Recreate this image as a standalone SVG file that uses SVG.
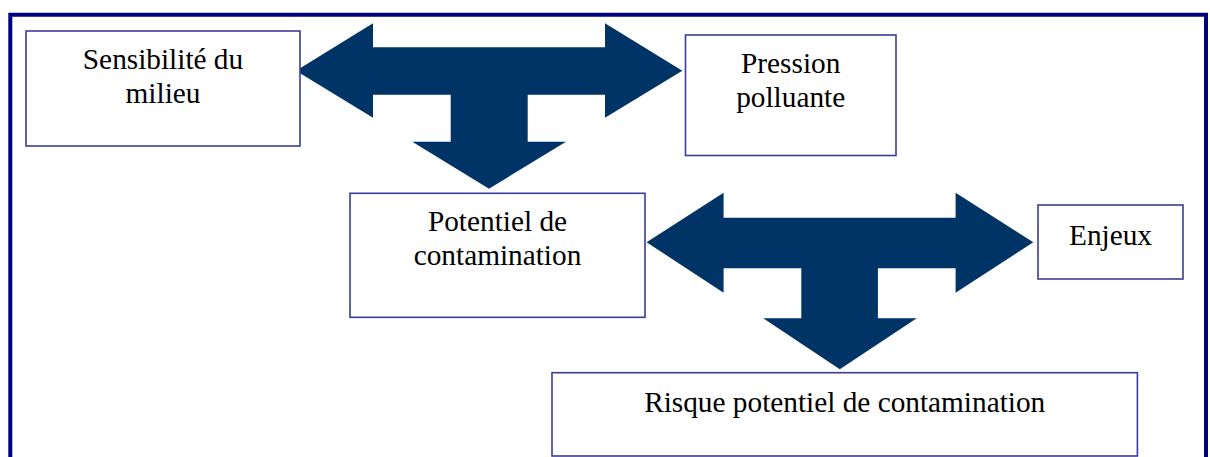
<svg xmlns="http://www.w3.org/2000/svg" width="1210" height="457" viewBox="0 0 1210 457">
<style>
.box{fill:#ffffff;stroke:#3b3b9c;stroke-width:1.6}
.lbl{font-family:"Liberation Serif","Times New Roman",serif;font-size:29.3px;fill:#000000;text-anchor:middle}
.arrow{fill:#003366;stroke:none}
</style>
<rect x="0" y="0" width="1210" height="457" fill="#ffffff"/>
<path d="M10.3,460 V14.7 H1206 V460" fill="none" stroke="#000080" stroke-width="4"/>
<g id="connectors">
<polygon class="arrow" points="296,70.7 373,23.3 373,47.3 605,47.3 605,23.3 682.3,70.7 605,117.7 605,94.7 527.7,94.7 527.7,141.7 566,141.7 489,188.7 412.3,141.7 450.7,141.7 450.7,94.7 373,94.7 373,117.7"/>
<polygon class="arrow" points="646.6,242.3 723.6,192.7 723.6,217.7 955.6,217.7 955.6,192.7 1033.3,242.3 955.6,292.7 955.6,268.3 877.9,268.3 877.9,318.3 916.7,318.3 839.8,369.3 763.2,318.3 801.3,318.3 801.3,268.3 723.6,268.3 723.6,292.7"/>
</g>
<g id="sensibilite">
<rect class="box" x="26" y="31" width="274" height="115"/>
<text class="lbl" x="163" y="69">Sensibilité du</text>
<text class="lbl" x="163" y="103">milieu</text>
</g>
<g id="pression">
<rect class="box" x="685.5" y="35" width="210.5" height="120.5"/>
<text class="lbl" x="790.7" y="73">Pression</text>
<text class="lbl" x="790.7" y="107">polluante</text>
</g>
<g id="potentiel">
<rect class="box" x="350" y="193.3" width="295" height="124"/>
<text class="lbl" x="497.5" y="231">Potentiel de</text>
<text class="lbl" x="497.5" y="265">contamination</text>
</g>
<g id="enjeux">
<rect class="box" x="1038" y="205" width="145" height="74"/>
<text class="lbl" x="1110.5" y="245">Enjeux</text>
</g>
<g id="risque">
<rect class="box" x="552" y="372.7" width="585.4" height="83.3"/>
<text class="lbl" x="844.7" y="411.7">Risque potentiel de contamination</text>
</g>
</svg>
